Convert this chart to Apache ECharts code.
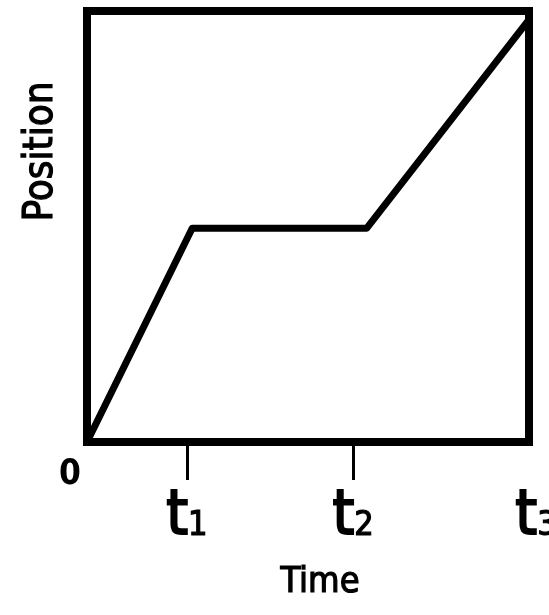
<!DOCTYPE html>
<html>
<head>
<meta charset="utf-8">
<title>Position vs Time</title>
<script src="https://cdn.jsdelivr.net/npm/echarts@6/dist/echarts.min.js"></script>
<style>
  html, body { margin: 0; padding: 0; background: #fff; }
  #chart { width: 549px; height: 615px; }
</style>
</head>
<body>
<div id="chart"></div>
<script>
// Time marks on the horizontal axis (arbitrary units, 0..10)
const tickValues = [0, 2.26, 6.02, 10];
const tickNames = ['0', 't1', 't2', 't3'];

// Position-time path: rise, rest, rise again
const timeValues = [0, 2.38, 6.33, 10];
const positionValues = [0, 4.96, 4.96, 9.8];

const FONT = '"DejaVu Sans Condensed", "DejaVu Sans", sans-serif';
// slightly heavier strokes than the regular face
const heavy = { color: '#000', textBorderColor: '#000', textBorderWidth: 1.2 };

const chart = echarts.init(document.getElementById('chart'), null, { renderer: 'canvas' });

chart.setOption({
  animation: false,
  backgroundColor: '#fff',
  grid: {
    left: 87, right: 20, top: 11, bottom: 173,
    outerBoundsMode: 'none',
    containLabel: false,
    show: true,
    borderWidth: 8,
    borderColor: '#000',
    backgroundColor: 'transparent'
  },
  xAxis: {
    type: 'value',
    min: 0,
    max: 10,
    name: 'Time',
    nameLocation: 'middle',
    nameGap: 123,
    nameTextStyle: Object.assign({
      fontFamily: FONT, fontSize: 36,
      padding: [0, 0, 0, 24]
    }, heavy),
    axisLine: { show: false },
    splitLine: { show: false },
    axisTick: {
      show: true,
      customValues: tickValues.slice(1, 3),
      length: 38,
      lineStyle: { color: '#000', width: 3 }
    },
    axisLabel: {
      show: true,
      customValues: tickValues,
      margin: 15,
      formatter: function (v) {
        const i = tickValues.indexOf(v);
        const name = tickNames[i];
        if (name === '0') return '{z|0}';
        const sub = name.slice(1);
        // the last mark sits at the right edge; its label is nudged outward
        if (i === tickValues.length - 1) return '{e|t}{s|' + sub + '}';
        return '{t|t}{s|' + sub + '}';
      },
      rich: {
        z: { fontFamily: FONT, fontSize: 35, fontWeight: 'bold', color: '#000', padding: [0, 34, 0, 0] },
        t: Object.assign({ fontFamily: FONT, fontSize: 62, padding: [30, 0, 0, 0], verticalAlign: 'bottom' }, heavy, { textBorderWidth: 2 }),
        e: Object.assign({ fontFamily: FONT, fontSize: 62, padding: [30, 0, 0, 14], verticalAlign: 'bottom' }, heavy, { textBorderWidth: 2 }),
        s: Object.assign({ fontFamily: FONT, fontSize: 34, verticalAlign: 'bottom', padding: [0, 0, 6, 0] }, heavy)
      }
    }
  },
  yAxis: {
    type: 'value',
    min: 0,
    max: 10,
    name: 'Position',
    nameLocation: 'middle',
    nameRotate: 90,
    nameGap: 25,
    nameTextStyle: Object.assign({
      fontFamily: FONT, fontSize: 40,
      padding: [0, 0, 0, 150]
    }, heavy),
    axisLine: { show: false },
    axisTick: { show: false },
    axisLabel: { show: false },
    splitLine: { show: false }
  },
  series: [{
    type: 'line',
    data: timeValues.map((t, i) => [t, positionValues[i]]),
    symbol: 'none',
    clip: false,
    lineStyle: { color: '#000', width: 7, join: 'round' }
  }]
});
</script>
</body>
</html>
